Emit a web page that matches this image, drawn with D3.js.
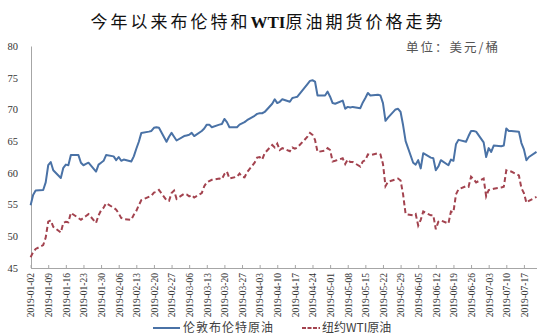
<!DOCTYPE html>
<html><head><meta charset="utf-8">
<script src="https://cdn.jsdelivr.net/npm/d3@7"></script>
<style>body{margin:0;background:#fff}svg{display:block}</style>
</head><body><svg id="c" width="549" height="336"></svg>
<script>
const titleParts = ["今年以来布伦特和", "WTI", "原油期货价格走势"];
const unitLabel = "单位：美元/桶";
const seriesNames = ["伦敦布伦特原油", "纽约WTI原油"];
const yTicks = [45, 50, 55, 60, 65, 70, 75, 80];
const xTickLabels = ["2019-01-02","2019-01-09","2019-01-16","2019-01-23","2019-01-30","2019-02-06","2019-02-13","2019-02-20","2019-02-27","2019-03-06","2019-03-13","2019-03-20","2019-03-27","2019-04-03","2019-04-10","2019-04-17","2019-04-24","2019-05-01","2019-05-08","2019-05-15","2019-05-22","2019-05-29","2019-06-05","2019-06-12","2019-06-19","2019-06-26","2019-07-03","2019-07-10","2019-07-17"];

const brentDates = ["01-02","01-03","01-04","01-07","01-08","01-09","01-10","01-11","01-14","01-15","01-16","01-17","01-18","01-21","01-22","01-23","01-24","01-25","01-28","01-29","01-30","01-31","02-01","02-04","02-05","02-06","02-07","02-08","02-11","02-12","02-13","02-14","02-15","02-18","02-19","02-20","02-21","02-22","02-25","02-26","02-27","02-28","03-01","03-04","03-05","03-06","03-07","03-08","03-11","03-12","03-13","03-14","03-15","03-18","03-19","03-20","03-21","03-22","03-25","03-26","03-27","03-28","03-29","04-01","04-02","04-03","04-04","04-05","04-08","04-09","04-10","04-11","04-12","04-15","04-16","04-17","04-18","04-22","04-23","04-24","04-25","04-26","04-29","04-30","05-01","05-02","05-03","05-06","05-07","05-08","05-09","05-10","05-13","05-14","05-15","05-16","05-17","05-20","05-21","05-22","05-23","05-24","05-27","05-28","05-29","05-30","05-31","06-03","06-04","06-05","06-06","06-07","06-10","06-11","06-12","06-13","06-14","06-17","06-18","06-19","06-20","06-21","06-24","06-25","06-26","06-27","06-28","07-01","07-02","07-03","07-04","07-05","07-08","07-09","07-10","07-11","07-12","07-15","07-16","07-17","07-18","07-19","07-22"];
const brentValues = [54.9,56.5,57.2,57.3,58.5,61.2,61.7,60.4,59.2,60.8,61.3,61.2,62.8,62.8,61.6,61.2,61.4,61.6,60.2,61.3,61.6,61.9,62.8,62.6,62.0,62.5,61.9,62.1,61.8,62.6,63.8,64.9,66.3,66.5,66.6,67.1,67.2,67.1,64.9,65.7,66.3,65.7,65.1,65.8,65.9,66.0,66.3,65.8,66.6,67.0,67.6,67.6,67.2,67.6,67.7,68.5,68.0,67.2,67.2,67.6,67.8,68.0,68.3,69.0,69.3,69.4,69.4,69.6,70.9,71.6,71.0,71.2,71.6,71.2,71.8,71.9,72.0,74.0,74.5,74.6,74.4,72.2,72.2,72.8,72.0,71.0,70.9,71.4,70.1,70.4,70.3,70.4,70.2,71.1,71.8,72.6,72.2,72.3,72.2,71.0,68.2,68.7,70.0,70.1,69.6,67.5,65.0,61.6,61.3,62.0,60.7,63.1,62.4,62.3,60.4,61.0,62.0,61.2,62.1,61.9,64.5,65.2,64.9,65.8,66.6,66.6,66.5,64.8,62.5,63.9,63.3,64.3,64.2,64.3,67.0,66.6,66.6,66.5,64.7,63.7,62.0,62.5,63.3];

const wtiDates = ["01-02","01-03","01-04","01-07","01-08","01-09","01-10","01-11","01-14","01-15","01-16","01-17","01-18","01-22","01-23","01-24","01-25","01-28","01-29","01-30","01-31","02-01","02-04","02-05","02-06","02-07","02-08","02-11","02-12","02-13","02-14","02-15","02-19","02-20","02-21","02-22","02-25","02-26","02-27","02-28","03-01","03-04","03-05","03-06","03-07","03-08","03-11","03-12","03-13","03-14","03-15","03-18","03-19","03-20","03-21","03-22","03-25","03-26","03-27","03-28","03-29","04-01","04-02","04-03","04-04","04-05","04-08","04-09","04-10","04-11","04-12","04-15","04-16","04-17","04-18","04-22","04-23","04-24","04-25","04-26","04-29","04-30","05-01","05-02","05-03","05-06","05-07","05-08","05-09","05-10","05-13","05-14","05-15","05-16","05-17","05-20","05-21","05-22","05-23","05-24","05-28","05-29","05-30","05-31","06-03","06-04","06-05","06-06","06-07","06-10","06-11","06-12","06-13","06-14","06-17","06-18","06-19","06-20","06-21","06-24","06-25","06-26","06-27","06-28","07-01","07-02","07-03","07-05","07-08","07-09","07-10","07-11","07-12","07-15","07-16","07-17","07-18","07-19","07-22"];
const wtiValues = [46.7,47.5,48.0,48.6,49.8,52.3,52.5,51.5,50.6,52.1,52.3,52.2,53.7,52.6,52.9,53.2,53.5,52.1,53.3,54.1,54.5,55.2,54.5,54.2,53.6,52.9,52.7,52.6,53.4,54.0,54.9,55.7,56.4,56.9,57.0,57.3,55.7,55.6,56.8,57.2,55.9,56.7,56.6,56.3,56.5,56.1,56.8,57.9,58.5,58.7,58.9,59.1,59.0,59.8,60.2,59.1,59.4,59.9,59.4,59.3,60.1,61.6,62.4,62.5,62.1,63.1,64.4,64.0,64.6,63.6,63.9,63.4,64.0,63.8,64.0,65.7,66.3,66.0,65.2,63.3,63.5,63.9,63.6,61.8,61.9,62.3,61.4,62.1,61.7,61.7,61.0,61.8,62.0,62.9,62.8,63.1,62.9,61.4,57.9,58.6,59.1,58.8,56.6,53.5,53.3,53.5,51.7,52.6,53.9,53.3,53.3,51.1,52.3,52.5,52.0,53.9,53.8,56.6,57.4,57.9,57.8,59.4,59.0,58.5,59.1,56.3,57.3,57.5,57.7,57.8,60.4,60.2,60.2,59.6,57.6,56.8,55.3,55.6,56.2];

const parse = d3.timeParse("%Y-%m-%d");
const pd = s => parse("2019-" + s);
const brent = brentDates.map((d, i) => ({date: pd(d), value: brentValues[i]}));
const wti = wtiDates.map((d, i) => ({date: pd(d), value: wtiValues[i]}));

const svg = d3.select("#c");
const x = d3.scaleTime().domain([parse("2019-01-02"), parse("2019-07-22")]).range([30.6, 536.5]);
const y = d3.scaleLinear().domain([45, 80]).range([268, 46]);

const axisColor = "#a6a6a6";
const textColor = "#333";

// title
const t = svg.append("text").attr("x", 268).attr("y", 28).attr("text-anchor", "middle")
  .attr("font-size", 17).attr("fill", "#111").attr("letter-spacing", 3)
  .attr("font-family", "'Noto Sans CJK SC', sans-serif");
t.append("tspan").text(titleParts[0]);
t.append("tspan").attr("font-family", "'Liberation Serif', serif").attr("font-weight", "bold").attr("letter-spacing", 0).text(titleParts[1]);
t.append("tspan").text(titleParts[2]);

svg.append("text").attr("x", 500).attr("y", 52).attr("text-anchor", "end")
  .attr("font-size", 12.5).attr("fill", "#555").attr("letter-spacing", 2)
  .attr("font-family", "'Noto Sans CJK SC', sans-serif").text(unitLabel);

// y axis
const ya = svg.append("g").attr("transform", "translate(31,0)")
  .call(d3.axisLeft(y).tickValues(yTicks).tickSize(0).tickPadding(13));
ya.select(".domain").attr("stroke", axisColor);
ya.selectAll("text").attr("font-family", "'Liberation Serif', serif").attr("font-size", 10.5).attr("fill", textColor);

// x axis
const tickDates = xTickLabels.map(parse);
const xa = svg.append("g").attr("transform", "translate(0,268)")
  .call(d3.axisBottom(x).tickValues(tickDates).tickSizeInner(-3).tickSizeOuter(0).tickFormat(d3.timeFormat("%Y-%m-%d")));
xa.select(".domain").attr("stroke", axisColor);
xa.selectAll(".tick line").attr("stroke", axisColor);
xa.selectAll("text")
  .attr("font-family", "'Liberation Serif', serif").attr("font-size", 9.5).attr("fill", textColor)
  .attr("transform", "rotate(-90)").attr("text-anchor", "end")
  .attr("x", -5).attr("y", 0).attr("dy", "0.35em");

// lines
const line = d3.line().x(d => x(d.date)).y(d => y(d.value));
svg.append("path").datum(brent).attr("d", line).attr("fill", "none")
  .attr("stroke", "#4a72a6").attr("stroke-width", 2).attr("stroke-linejoin", "round");
svg.append("path").datum(wti).attr("d", line).attr("fill", "none")
  .attr("stroke", "#a3434f").attr("stroke-width", 2).attr("stroke-dasharray", "5,3");

// legend
const lg = svg.append("g");
lg.append("rect").attr("x", 146).attr("y", 320).attr("width", 264).attr("height", 16).attr("fill", "#fff");
lg.append("line").attr("x1", 153).attr("x2", 180).attr("y1", 328).attr("y2", 328)
  .attr("stroke", "#4a72a6").attr("stroke-width", 2);
lg.append("text").attr("x", 183).attr("y", 328).attr("dy", "0.35em").attr("font-size", 12)
  .attr("letter-spacing", 1).attr("fill", "#404040")
  .attr("font-family", "'Noto Sans CJK SC', sans-serif").text(seriesNames[0]);
lg.append("line").attr("x1", 302).attr("x2", 320).attr("y1", 328).attr("y2", 328)
  .attr("stroke", "#a3434f").attr("stroke-width", 2).attr("stroke-dasharray", "4,1.5");
lg.append("text").attr("x", 322).attr("y", 328).attr("dy", "0.35em").attr("font-size", 12)
  .attr("fill", "#404040")
  .attr("font-family", "'Noto Sans CJK SC', sans-serif").text(seriesNames[1]);
</script>
</body></html>
